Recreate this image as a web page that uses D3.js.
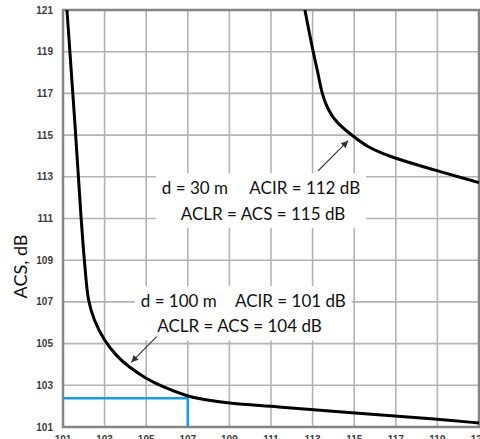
<!DOCTYPE html>
<html lang="en">
<head>
<meta charset="UTF-8">
<title>ACS vs ACIR</title>
<script src="https://cdn.jsdelivr.net/npm/d3@7"></script>
<style>
    body { margin: 0; padding: 0; overflow: hidden; background: #fff; }
    svg { display: block; }
</style>
</head>
<body>
<svg id="chart" width="480" height="439"></svg>
<script>
// tick values (both axes step by 2 dB)
var xTicks = [101, 103, 105, 107, 109, 111, 113, 115, 117, 119, 121];
var yTicks = [101, 103, 105, 107, 109, 111, 113, 115, 117, 119, 121];

// d = 100 m curve (ACIR, ACS)
var near100X = [101.19, 101.6, 101.74, 101.87, 101.98, 102.11, 102.2, 102.48, 102.96, 103.6, 104.16, 104.96, 105.76, 107.04, 107.68, 109, 111.05, 115.04, 119.03, 121];
var near100Y = [121, 115.2, 113, 111, 109.5, 108.05, 107.09, 106.13, 105.17, 104.37, 103.89, 103.34, 102.94, 102.45, 102.33, 102.12, 102.0, 101.67, 101.38, 101.19];

// d = 30 m curve
var near30X = [112.63, 113.02, 113.28, 113.44, 113.74, 114.16, 114.88, 115.6, 116.72, 118.31, 121];
var near30Y = [121, 119, 117.9, 117, 116.2, 115.58, 115.0, 114.44, 113.96, 113.48, 112.72];

// marked operating point
var markX = 107, markY = 102.38;

// annotation text: left x of each piece and baselines (data units)
var labels = [
    { a: "d = 30 m", b: "ACIR = 112 dB", c: "ACLR = ACS = 115 dB", ax: 105.75, bx: 109.96, cx: 106.66, y1: 112.16, y2: 110.93 },
    { a: "d = 100 m", b: "ACIR = 101 dB", c: "ACLR = ACS = 104 dB", ax: 104.74, bx: 109.27, cx: 105.53, y1: 106.76, y2: 105.54 }
];
// arrows: from -> to (data units)
var arrows = [
    { x1: 113.27, y1: 113.29, x2: 114.71, y2: 114.73 },
    { x1: 105.5, y1: 105.33, x2: 104.28, y2: 104.1 }
];

var svg = d3.select("#chart");
var x = d3.scaleLinear().domain([101, 121]).range([63, 479]);
var y = d3.scaleLinear().domain([101, 121]).range([427, 10]);

svg.append("defs").append("marker")
    .attr("id", "head")
    .attr("viewBox", "0 0 10 10")
    .attr("refX", 10).attr("refY", 5)
    .attr("markerWidth", 9).attr("markerHeight", 7)
    .attr("markerUnits", "userSpaceOnUse")
    .attr("orient", "auto")
    .append("path").attr("d", "M0,0L10,5L0,10z").attr("fill", "#333");

// grid
var grid = svg.append("g");
grid.selectAll(".vg").data(xTicks).enter().append("line")
    .attr("x1", d => x(d)).attr("x2", d => x(d))
    .attr("y1", y(121)).attr("y2", y(101))
    .attr("stroke", "#b3b3b3").attr("stroke-width", 1.6);
grid.selectAll(".hg").data(yTicks).enter().append("line")
    .attr("x1", x(101)).attr("x2", x(121))
    .attr("y1", d => y(d)).attr("y2", d => y(d))
    .attr("stroke", "#b3b3b3").attr("stroke-width", 1.6);

// frame
svg.append("rect")
    .attr("x", x(101)).attr("y", y(121))
    .attr("width", x(121) - x(101)).attr("height", y(101) - y(121))
    .attr("fill", "none").attr("stroke", "#858585").attr("stroke-width", 2.5);

// tick labels (x labels run off the bottom edge, as in the source image)
svg.selectAll(".yt").data(yTicks).enter().append("text")
    .attr("x", 53).attr("y", d => y(d) + 3.5)
    .attr("text-anchor", "end")
    .attr("font-family", "Liberation Sans, Arial, sans-serif")
    .attr("font-size", 10).attr("font-weight", "bold").attr("fill", "#3b3b3b")
    .text(d => d);
svg.selectAll(".xt").data(xTicks).enter().append("text")
    .attr("x", d => x(d)).attr("y", 442.5)
    .attr("text-anchor", "middle")
    .attr("font-family", "Liberation Sans, Arial, sans-serif")
    .attr("font-size", 10).attr("font-weight", "bold").attr("fill", "#3b3b3b")
    .text(d => d);

svg.append("text")
    .attr("transform", "translate(27," + y(108.7) + ") rotate(-90)")
    .attr("text-anchor", "middle")
    .attr("font-family", "Lato, sans-serif")
    .attr("font-size", 18).attr("fill", "#111")
    .text("ACS, dB");

// marked point
svg.append("path")
    .attr("d", d3.line()([[x(101), y(markY)], [x(markX), y(markY)], [x(markX), y(101)]]))
    .attr("fill", "none").attr("stroke", "#1a9be6").attr("stroke-width", 2.6);

// curves
var line = d3.line().x(d => x(d[0])).y(d => y(d[1])).curve(d3.curveBasis);
[[near100X, near100Y], [near30X, near30Y]].forEach(function (c) {
    svg.append("path")
        .attr("d", line(d3.zip(c[0], c[1])))
        .attr("fill", "none").attr("stroke", "#000").attr("stroke-width", 3);
});

// annotation boxes + text
labels.forEach(function (l) {
    var g = svg.append("g");
    var bg = g.append("rect").attr("fill", "#fff");
    var t = g.append("g")
        .attr("font-family", "Lato, sans-serif")
        .attr("font-size", 17).attr("fill", "#111");
    t.append("text").attr("x", x(l.ax)).attr("y", y(l.y1)).text(l.a);
    t.append("text").attr("x", x(l.bx)).attr("y", y(l.y1)).text(l.b);
    t.append("text").attr("x", x(l.cx)).attr("y", y(l.y2)).text(l.c);
    var bb = t.node().getBBox();
    bg.attr("x", bb.x - 6).attr("y", bb.y - 4)
        .attr("width", bb.width + 12).attr("height", bb.height + 8);
});

arrows.forEach(function (a) {
    svg.append("line")
        .attr("x1", x(a.x1)).attr("y1", y(a.y1))
        .attr("x2", x(a.x2)).attr("y2", y(a.y2))
        .attr("stroke", "#333").attr("stroke-width", 1.1)
        .attr("marker-end", "url(#head)");
});
</script>
</body>
</html>
